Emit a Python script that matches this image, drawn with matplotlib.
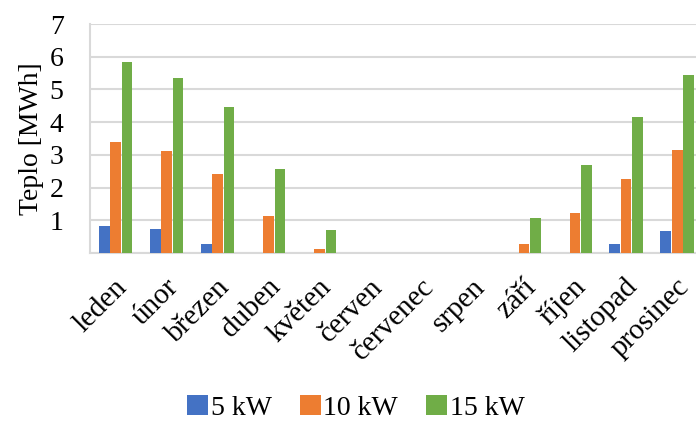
import matplotlib
matplotlib.use("Agg")
import matplotlib.pyplot as plt
import matplotlib.transforms as mtransforms
import numpy as np

months = ["leden", "únor", "březen", "duben", "květen", "červen",
          "červenec", "srpen", "září", "říjen", "listopad", "prosinec"]
series_names = ["5 kW", "10 kW", "15 kW"]
heat_5kw = [0.83, 0.72, 0.27, 0, 0, 0, 0, 0, 0, 0, 0.28, 0.67]
heat_10kw = [3.40, 3.12, 2.42, 1.12, 0.12, 0, 0, 0, 0.27, 1.23, 2.27, 3.14]
heat_15kw = [5.83, 5.34, 4.46, 2.58, 0.69, 0, 0, 0, 1.08, 2.70, 4.15, 5.43]
colors = ["#4472C4", "#ED7D31", "#70AD47"]
y_ticks = [0, 1, 2, 3, 4, 5, 6, 7]

plt.rcParams["font.family"] = ["Liberation Serif", "DejaVu Serif"]

fig = plt.figure(figsize=(6.96, 4.21), dpi=100)
ax = fig.add_axes([90 / 696, 168 / 421, 612.7 / 696, 229 / 421])

x = np.arange(len(months))
step = 0.222
for i, (vals, c) in enumerate(zip([heat_5kw, heat_10kw, heat_15kw], colors)):
    ax.bar(x + (i - 1) * step, vals, width=0.21, color=c, label=series_names[i], zorder=3)

ax.set_xlim(-0.5, len(months) - 0.5)
ax.set_ylim(0, 7)
ax.set_yticks(y_ticks)
ax.set_yticklabels([""] + [str(t) for t in y_ticks[1:]], fontsize=20)
ax.yaxis.grid(True, color="#d9d9d9", linewidth=1.5, zorder=0)
ax.tick_params(axis="y", length=0, pad=19)
ax.tick_params(axis="x", length=0, pad=15)
ax.set_ylabel("Teplo [MWh]", fontsize=20, labelpad=4)

ax.set_xticks(x)
ax.set_xticklabels(months, fontsize=21, rotation=45, ha="right", va="top")
shift = mtransforms.ScaledTranslation(0.17, 0, fig.dpi_scale_trans)
for lbl in ax.get_xticklabels():
    lbl.set_transform(lbl.get_transform() + shift)

for side in ["top", "right"]:
    ax.spines[side].set_visible(False)
for side in ["left", "bottom"]:
    ax.spines[side].set_color("#d9d9d9")
    ax.spines[side].set_linewidth(1.5)

fig.legend(loc="center", bbox_to_anchor=(356 / 696, 1 - 408 / 421), ncol=3,
           frameon=False, fontsize=20, handlelength=0.75, handleheight=0.75,
           handletextpad=0.1, columnspacing=1.0, borderaxespad=0)

fig.savefig("out.png", dpi=100)
